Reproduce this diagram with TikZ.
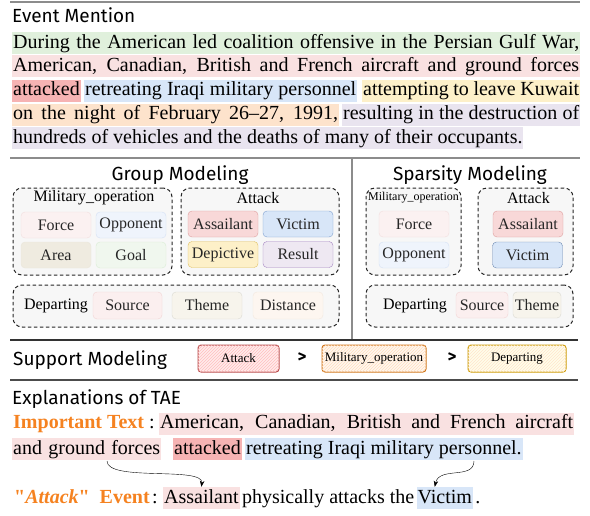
\documentclass[tikz,border=0pt]{standalone}
\usepackage{fontspec}
\setmainfont{Liberation Serif}
\newfontfamily\headfont{Fira Sans}
\newfontfamily\quotefont{Liberation Serif}[Ligatures=TeXOff]
\usepackage{tikz}
\usetikzlibrary{positioning, arrows.meta, patterns, calc}
\usepackage{xcolor}
\definecolor{hlgreen}{HTML}{E0F0DC}
\definecolor{hlpink}{HTML}{F9E1E1}
\definecolor{hlred}{HTML}{F6B3B3}
\definecolor{hlblue}{HTML}{D8E6F8}
\definecolor{hlyellow}{HTML}{FDF0C9}
\definecolor{hlorange}{HTML}{FDE3CC}
\definecolor{hlpurple}{HTML}{E9E4EF}
\definecolor{tagorange}{HTML}{F58220}
\definecolor{rulegray}{HTML}{8C8C8C}
% role boxes
\definecolor{forceF}{HTML}{FBF1F1}\definecolor{forceD}{HTML}{F2DEDE}
\definecolor{oppF}{HTML}{EFF4FC}\definecolor{oppD}{HTML}{D4E0F4}
\definecolor{areaF}{HTML}{EFEBE0}\definecolor{areaD}{HTML}{EAE6DA}
\definecolor{goalF}{HTML}{F0F7EE}\definecolor{goalD}{HTML}{D9EBD5}
\definecolor{assF}{HTML}{F8D8D8}\definecolor{assD}{HTML}{DE9E9E}
\definecolor{vicF}{HTML}{D8E6F8}\definecolor{vicD}{HTML}{7FA0D0}
\definecolor{depF}{HTML}{FDF0C8}\definecolor{depD}{HTML}{E0C060}
\definecolor{resF}{HTML}{EEE8F2}\definecolor{resD}{HTML}{A585C2}
\definecolor{srcF}{HTML}{FBEFEF}\definecolor{srcD}{HTML}{F2D4D4}
\definecolor{thmF}{HTML}{F7F4EC}\definecolor{thmD}{HTML}{DADAD2}
\definecolor{distF}{HTML}{FDF6F0}\definecolor{distD}{HTML}{F3E9DE}

\begin{document}
\begin{tikzpicture}[x=1pt, y=-1pt,
  plain/.style={anchor=west, inner xsep=1pt, inner ysep=1pt, text height=15pt, text depth=5pt, font=\fontsize{20}{22}\selectfont},
  hl/.style={plain, fill=#1},
  head/.style={anchor=west, inner sep=0pt, font=\headfont\fontsize{19}{21}\selectfont},
  group/.style={draw=black!85, line width=1pt, dash pattern=on 3.5pt off 2.5pt, rounded corners=9pt, fill=black!3},
  grouplabel/.style={inner sep=0pt, font=\fontsize{16}{18}\selectfont},
  role/.style 2 args={draw=#2, fill=#1, rounded corners=4pt, minimum width=70pt, minimum height=26pt, inner sep=0pt, text=black!85, font=\fontsize{16}{18}\selectfont},
  rank/.style n args={3}{draw=#2, fill=#1, line width=1pt, rounded corners=3pt, minimum height=27pt, inner sep=0pt, font=\fontsize{13}{15}\selectfont, postaction={pattern=north east lines, pattern color=#3}},
  gtsign/.style={font=\headfont\bfseries\fontsize{17}{19}\selectfont}]
\useasboundingbox (0,0) rectangle (590,515);

% rules
\draw[rulegray, line width=1.6pt] (10,2) -- (580,2);
\draw[rulegray, line width=1.6pt] (10,158) -- (580,158);
\draw[rulegray, line width=1.2pt] (352,158) -- (352,340);
\draw[black!80, line width=1.2pt] (10,340) -- (578,340);
\draw[black!70, line width=1.2pt] (10,380) -- (578,380);

% event mention
\node[head] (evHead) at (12,15) {Event Mention};
\node[hl=hlgreen] (r1) at (12,43) {\makebox[566pt][s]{During the American led coalition offensive in the Persian Gulf War,}};
\node[hl=hlpink] (r2) at (12,66) {\makebox[566pt][s]{American, Canadian, British and French aircraft and ground forces}};
\node[hl=hlred] (r3a) at (12,90.5) {attacked};
\node[hl=hlblue] (r3b) at (84,90.5) {\makebox[271pt][s]{retreating Iraqi military personnel}};
\node[hl=hlyellow] (r3c) at (362,90.5) {\makebox[216pt][s]{attempting to leave Kuwait}};
\node[hl=hlorange] (r4a) at (12,114.5) {\makebox[325pt][s]{on the night of February 26--27, 1991,}};
\node[hl=hlpurple] (r4b) at (342,114.5) {\makebox[236pt][s]{resulting in the destruction of}};
\node[hl=hlpurple] (r5) at (12,138) {hundreds of vehicles and the deaths of many of their occupants.};

% group modeling
\node[font=\headfont\fontsize{19}{21}\selectfont] (gHead) at (180,175) {Group Modeling};
\node[group, minimum width=159pt, minimum height=87pt] (gMil) at (92.5,231.5) {};
\node[grouplabel] (gMilLbl) at (94,198) {Military\_operation};
\node[role={forceF}{forceD}] (gForce) at (56,225) {Force};
\node[role={oppF}{oppD}] (gOpp) at (131,225) {Opponent};
\node[role={areaF}{areaD}] (gArea) at (56,255) {Area};
\node[role={goalF}{goalD}] (gGoal) at (131,255) {Goal};
\node[group, minimum width=158pt, minimum height=87pt] (gAtt) at (260,231.5) {};
\node[grouplabel] (gAttLbl) at (258,198) {Attack};
\node[role={assF}{assD}] (gAss) at (223,224) {Assailant};
\node[role={vicF}{vicD}] (gVic) at (298,224) {Victim};
\node[role={depF}{depD}] (gDep) at (223,254.5) {Depictive};
\node[role={resF}{resD}] (gRes) at (298,254.5) {Result};
\node[group, minimum width=326pt, minimum height=42pt] (gDepart) at (176,306) {};
\node[grouplabel] (gDepLbl) at (56,306) {Departing};
\node[role={srcF}{srcD}, minimum width=69pt, minimum height=27pt] (gSrc) at (127.5,305.5) {Source};
\node[role={thmF}{thmD}, minimum height=27pt] (gThm) at (207,305.5) {Theme};
\node[role={distF}{distD}, minimum height=27pt] (gDist) at (288,305.5) {Distance};

% sparsity modeling
\node[font=\headfont\fontsize{19}{21}\selectfont] (sHead) at (470,175) {Sparsity Modeling};
\node[group, minimum width=95pt, minimum height=87pt] (sMil) at (413.5,231.5) {};
\node[grouplabel, font=\fontsize{12}{14}\selectfont] (sMilLbl) at (413.5,198) {Military\_operation};
\node[role={forceF}{forceD}] (sForce) at (414,224) {Force};
\node[role={oppF}{oppD}] (sOpp) at (414,255) {Opponent};
\node[group, minimum width=95pt, minimum height=87pt] (sAtt) at (525.5,231.5) {};
\node[grouplabel] (sAttLbl) at (528.5,198) {Attack};
\node[role={assF}{assD}] (sAss) at (528,224) {Assailant};
\node[role={vicF}{vicD!85!black}] (sVic) at (527.5,255) {Victim};
\node[group, minimum width=207pt, minimum height=42pt] (sDepart) at (469.5,306) {};
\node[grouplabel] (sDepLbl) at (415,306) {Departing};
\node[role={srcF}{srcD}, minimum width=52pt] (sSrc) at (482,305) {Source};
\node[role={thmF}{thmD}, minimum width=48pt] (sThm) at (537,305) {Theme};

% support modeling
\node[head] (supHead) at (13,360) {Support Modeling};
\node[rank={red!8}{red!60!black!70}{red!25}, minimum width=81pt] (supAtt) at (238.5,358.5) {Attack};
\node[gtsign] (gt1) at (302,358) {>};
\node[rank={orange!6}{orange!80!black!90}{orange!25}, minimum width=104pt] (supMil) at (374,358.5) {Military\_operation};
\node[gtsign] (gt2) at (452,358) {>};
\node[rank={yellow!8}{orange!50!yellow!80!black}{orange!20}, minimum width=98pt] (supDep) at (517,358.5) {Departing};

% explanations
\node[head] (exHead) at (12,399) {Explanations of TAE};
\node[plain, text=tagorange] (impLbl) at (12,423.5) {\textbf{Important Text}};
\node[plain] (impCol) at (148,423.5) {:};
\node[hl=hlpink] (imp1) at (159,423.5) {\makebox[413pt][s]{American, Canadian, British and French aircraft}};
\node[hl=hlpink] (imp2) at (12,449) {\makebox[147pt][s]{and ground forces}\hspace{6pt}};
\node[hl=hlred] (imp3) at (173,449) {attacked};
\node[hl=hlblue] (imp4) at (245,449) {retreating Iraqi military personnel.};
\node[plain, text=tagorange] (evLbl) at (13,498) {\bfseries{\quotefont"}\textit{Attack}{\quotefont"}\ \ Event};
\node[plain] (evCol) at (151,498) {:};
\node[hl=hlpink] (evAss) at (163,498) {Assailant};
\node[plain, right=1pt of evAss] (evMid) {physically attacks the};
\node[hl=hlblue, right=1pt of evMid] (evVic) {Victim};
\node[plain, right=1pt of evVic] (evDot) {.};
\coordinate (gfPt) at (107,461);
\coordinate (pnPt) at (474,461);
\draw[-{Stealth[length=6pt,width=4.5pt]}] (gfPt) .. controls (107,482) and (204,466) .. (evAss.north);
\draw[-{Stealth[length=6pt,width=4.5pt]}] (pnPt) .. controls (474,480) and (439,466) .. ([xshift=-10pt]evVic.north);
\end{tikzpicture}
\end{document}
